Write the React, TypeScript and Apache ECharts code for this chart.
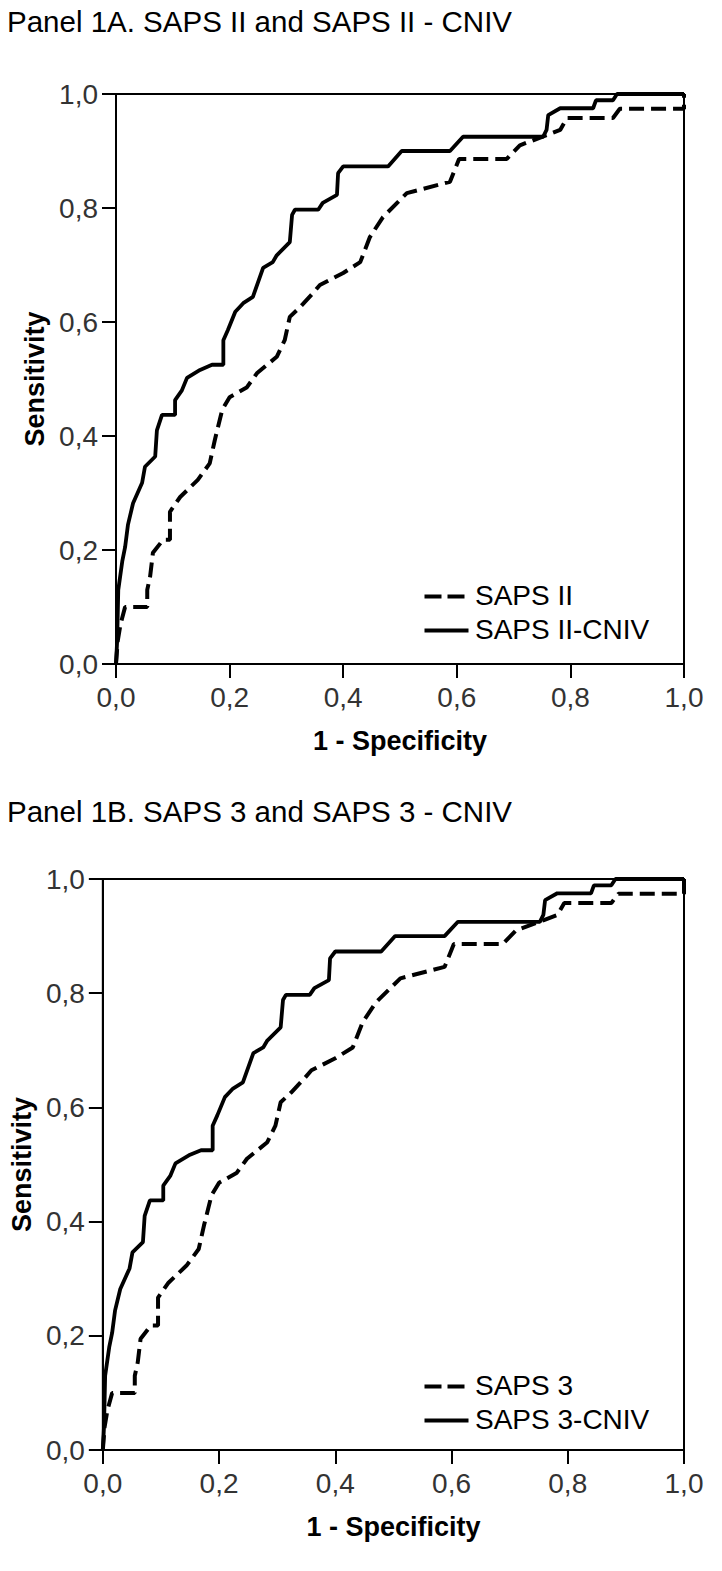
import React, { useEffect, useRef } from "react";
import * as echarts from "echarts";

// Panel 1A data: [1 - specificity, sensitivity]
const sapsII: number[][] = [
  [0, 0], [0.003, 0.04], [0.008, 0.07], [0.016, 0.1], [0.055, 0.1], [0.055, 0.13],
  [0.06, 0.153], [0.065, 0.195], [0.083, 0.218], [0.095, 0.218], [0.095, 0.267],
  [0.113, 0.293], [0.144, 0.323], [0.165, 0.352], [0.174, 0.393], [0.187, 0.446],
  [0.2, 0.468], [0.23, 0.485], [0.248, 0.51], [0.283, 0.539], [0.297, 0.568],
  [0.306, 0.609], [0.324, 0.626], [0.347, 0.651], [0.359, 0.665], [0.4, 0.686],
  [0.43, 0.705], [0.447, 0.749], [0.47, 0.784], [0.512, 0.826], [0.588, 0.846],
  [0.604, 0.886], [0.688, 0.886], [0.711, 0.91], [0.759, 0.928], [0.782, 0.937],
  [0.794, 0.958], [0.875, 0.958], [0.887, 0.974], [1.0, 0.974], [1.0, 1.0],
];
const sapsIICniv: number[][] = [
  [0, 0], [0.002, 0.04], [0.004, 0.13], [0.011, 0.18], [0.016, 0.205], [0.021, 0.244],
  [0.03, 0.282], [0.046, 0.318], [0.051, 0.346], [0.069, 0.364], [0.072, 0.41],
  [0.081, 0.437], [0.104, 0.437], [0.104, 0.463], [0.116, 0.48], [0.125, 0.502],
  [0.148, 0.516], [0.169, 0.525], [0.189, 0.525], [0.189, 0.568], [0.197, 0.586],
  [0.21, 0.618], [0.224, 0.633], [0.241, 0.644], [0.259, 0.695], [0.276, 0.705],
  [0.283, 0.717], [0.306, 0.74], [0.31, 0.788], [0.315, 0.797], [0.356, 0.797],
  [0.364, 0.809], [0.389, 0.823], [0.391, 0.861], [0.4, 0.873], [0.479, 0.873],
  [0.503, 0.9], [0.588, 0.9], [0.611, 0.925], [0.752, 0.925], [0.758, 0.937],
  [0.761, 0.963], [0.782, 0.975], [0.84, 0.975], [0.845, 0.989], [0.875, 0.989],
  [0.882, 1.0], [1.0, 1.0],
];

// Panel 1B data
const saps3: number[][] = [
  [0, 0], [0.003, 0.04], [0.008, 0.07], [0.016, 0.1], [0.055, 0.1], [0.055, 0.13],
  [0.06, 0.153], [0.065, 0.195], [0.083, 0.218], [0.095, 0.218], [0.095, 0.267],
  [0.113, 0.293], [0.144, 0.323], [0.165, 0.352], [0.174, 0.393], [0.187, 0.446],
  [0.2, 0.468], [0.23, 0.485], [0.248, 0.51], [0.283, 0.539], [0.297, 0.568],
  [0.306, 0.609], [0.324, 0.626], [0.347, 0.651], [0.359, 0.665], [0.4, 0.686],
  [0.43, 0.705], [0.447, 0.749], [0.47, 0.784], [0.512, 0.826], [0.588, 0.846],
  [0.604, 0.886], [0.688, 0.886], [0.711, 0.91], [0.759, 0.928], [0.782, 0.937],
  [0.794, 0.958], [0.875, 0.958], [0.887, 0.974], [1.0, 0.974], [1.0, 1.0],
];
const saps3Cniv: number[][] = [
  [0, 0], [0.002, 0.04], [0.004, 0.13], [0.011, 0.18], [0.016, 0.205], [0.021, 0.244],
  [0.03, 0.282], [0.046, 0.318], [0.051, 0.346], [0.069, 0.364], [0.072, 0.41],
  [0.081, 0.437], [0.104, 0.437], [0.104, 0.463], [0.116, 0.48], [0.125, 0.502],
  [0.148, 0.516], [0.169, 0.525], [0.189, 0.525], [0.189, 0.568], [0.197, 0.586],
  [0.21, 0.618], [0.224, 0.633], [0.241, 0.644], [0.259, 0.695], [0.276, 0.705],
  [0.283, 0.717], [0.306, 0.74], [0.31, 0.788], [0.315, 0.797], [0.356, 0.797],
  [0.364, 0.809], [0.389, 0.823], [0.391, 0.861], [0.4, 0.873], [0.479, 0.873],
  [0.503, 0.9], [0.588, 0.9], [0.611, 0.925], [0.752, 0.925], [0.758, 0.937],
  [0.761, 0.963], [0.782, 0.975], [0.84, 0.975], [0.845, 0.989], [0.875, 0.989],
  [0.882, 1.0], [1.0, 1.0],
];

const panelTitles = ["Panel 1A. SAPS II and SAPS II - CNIV", "Panel 1B. SAPS 3 and SAPS 3 - CNIV"];
const seriesNames = [["SAPS II", "SAPS II-CNIV"], ["SAPS 3", "SAPS 3-CNIV"]];
const xAxisTitle = "1 - Specificity";
const yAxisTitle = "Sensitivity";

const FONT = "'Liberation Sans', Arial, Helvetica, sans-serif";
const DASH = [15, 7];
const LEGEND_DASH = [17, 6];

export default function App() {
  const ref = useRef<HTMLDivElement>(null);
  useEffect(() => {
    document.body.style.margin = "0";
    const chart = echarts.init(ref.current!, null, { renderer: "svg" });
    const grids = [
      { left: 116, top: 94, width: 568, height: 570 },
      { left: 101, top: 879, width: 583, height: 571 },
    ];
    const fmt = (v: number) => v.toFixed(1).replace(".", ",");
    const mkX = (i: number) => ({
      type: "value", gridIndex: i, min: 0, max: 1, interval: 0.2,
      axisLine: { show: true, lineStyle: { color: "#000", width: 2 } },
      axisTick: { show: true, length: 14, lineStyle: { color: "#000", width: 2 } },
      splitLine: { show: false },
      axisLabel: { formatter: fmt, fontSize: 28, color: "#333", fontFamily: FONT, margin: 19 },
      name: xAxisTitle, nameLocation: "middle", nameGap: 63,
      nameTextStyle: { fontSize: 27, fontWeight: "bold", color: "#000", fontFamily: FONT },
    });
    const mkY = (i: number, gap: number) => ({
      type: "value", gridIndex: i, min: 0, max: 1, interval: 0.2,
      axisLine: { show: true, lineStyle: { color: "#000", width: 2 } },
      axisTick: { show: true, length: 14, lineStyle: { color: "#000", width: 2 } },
      splitLine: { show: false },
      axisLabel: { formatter: fmt, fontSize: 28, color: "#333", fontFamily: FONT, margin: 18 },
      name: yAxisTitle, nameLocation: "middle", nameGap: gap,
      nameTextStyle: { fontSize: 27, fontWeight: "bold", color: "#000", fontFamily: FONT },
    });
    const dashed = (name: string, data: number[][], i: number) => ({
      type: "line", name, data, xAxisIndex: i, yAxisIndex: i, symbol: "none",
      lineStyle: { color: "#000", width: 4, type: DASH },
      itemStyle: { color: "#000" },
    });
    const solid = (name: string, data: number[][], i: number) => ({
      type: "line", name, data, xAxisIndex: i, yAxisIndex: i, symbol: "none",
      lineStyle: { color: "#000", width: 3.8, type: "solid" },
      itemStyle: { color: "#000" },
    });
    const legendItems = (i: number, y: number) => [
      { type: "line", left: 422, top: y - 2, shape: { x1: 0, y1: 0, x2: 44, y2: 0 },
        style: { stroke: "#000", lineWidth: 4, lineDash: LEGEND_DASH } },
      { type: "text", left: 475, top: y - 15, style: { text: seriesNames[i][0], fontSize: 28, fill: "#000", fontFamily: FONT } },
      { type: "line", left: 422, top: y + 32, shape: { x1: 0, y1: 0, x2: 44, y2: 0 },
        style: { stroke: "#000", lineWidth: 4 } },
      { type: "text", left: 475, top: y + 19, style: { text: seriesNames[i][1], fontSize: 28, fill: "#000", fontFamily: FONT } },
    ];
    chart.setOption({
      animation: false,
      backgroundColor: "#fff",
      title: [
        { text: panelTitles[0], left: 7, top: 6, padding: 0, textStyle: { fontSize: 29.5, fontWeight: "normal", color: "#000", fontFamily: FONT } },
        { text: panelTitles[1], left: 7, top: 796, padding: 0, textStyle: { fontSize: 29.5, fontWeight: "normal", color: "#000", fontFamily: FONT } },
      ],
      grid: grids.map((g) => ({ ...g, show: true, borderColor: "#000", borderWidth: 2, backgroundColor: "transparent" })),
      xAxis: [mkX(0), mkX(1)],
      yAxis: [mkY(0, 61), mkY(1, 63)],
      graphic: [...legendItems(0, 596), ...legendItems(1, 1386)],
      series: [
        dashed(seriesNames[0][0], sapsII, 0),
        solid(seriesNames[0][1], sapsIICniv, 0),
        dashed(seriesNames[1][0], saps3, 1),
        solid(seriesNames[1][1], saps3Cniv, 1),
      ],
    });
    return () => chart.dispose();
  }, []);
  return <div ref={ref} style={{ position: "absolute", left: 0, top: 0, width: 722, height: 1571 }} />;
}
